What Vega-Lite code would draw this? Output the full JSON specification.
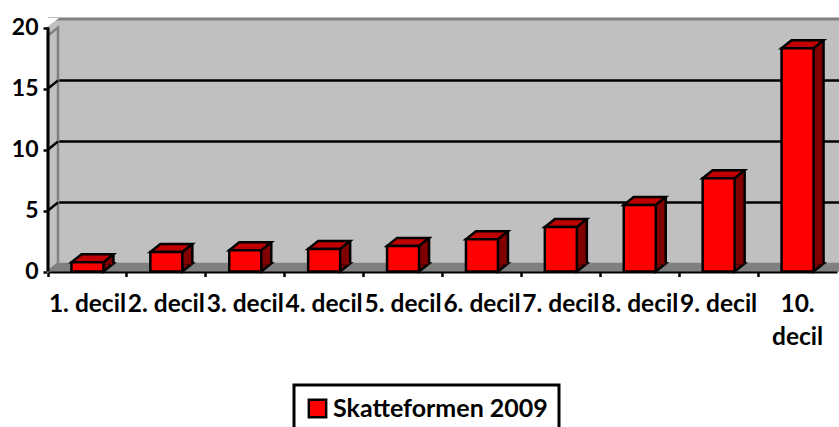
{
"$schema":"https://vega.github.io/schema/vega-lite/v6.json",
"autosize":"none","width":791,"height":252.5,
"padding":{"left":48,"top":19,"right":0,"bottom":155.5},
"background":"white",
"view":{"fill":"#C0C0C0","stroke":null},
"config":{"legend":{"strokeWidth":3}},
"data":{"values":[
{"decil":"1. decil","value":0.75,"series":"Skatteformen 2009"},
{"decil":"2. decil","value":1.6,"series":"Skatteformen 2009"},
{"decil":"3. decil","value":1.75,"series":"Skatteformen 2009"},
{"decil":"4. decil","value":1.85,"series":"Skatteformen 2009"},
{"decil":"5. decil","value":2.1,"series":"Skatteformen 2009"},
{"decil":"6. decil","value":2.65,"series":"Skatteformen 2009"},
{"decil":"7. decil","value":3.65,"series":"Skatteformen 2009"},
{"decil":"8. decil","value":5.45,"series":"Skatteformen 2009"},
{"decil":"9. decil","value":7.65,"series":"Skatteformen 2009"},
{"decil":"10. decil","value":18.3,"series":"Skatteformen 2009"}
]},
"encoding":{
"x":{"field":"decil","type":"nominal","sort":null,"title":null,
 "scale":{"range":[0,789],"paddingInner":0,"paddingOuter":0},
 "axis":{"labelAngle":0,"labelFont":"Lato","labelFontWeight":"bold","labelFontSize":24.5,"labelColor":"black","labelPadding":16,"labelLineHeight":33,"labelBaseline":"top","labelLimit":0,"labelOverlap":false,"tickColor":"black","tickWidth":2.5,"tickSize":5,"domainColor":"black","domainWidth":3,"grid":false,"bandPosition":0,
 "labelExpr":"datum.label == '10. decil' ? ['10.','decil'] : datum.label"}},
"y":{"field":"value","type":"quantitative","title":null,
 "scale":{"domain":[0,20.7],"nice":false,"zero":true},
 "axis":{"values":[0,5,10,15,20],"labelFont":"Lato","labelFontWeight":"bold","labelFontSize":23,"labelColor":"black","labelPadding":5,"tickColor":"black","tickWidth":2.5,"tickSize":5,"domain":false,"grid":false}}
},
"layer":[
{"data":{"values":[{"v":20.7}]},"mark":{"type":"rule","color":"#808080","strokeWidth":3},"encoding":{"x":{},"y":{"field":"v","type":"quantitative"}}},
{"data":{"values":[{"v":5},{"v":10},{"v":15}]},"mark":{"type":"rule","color":"black","strokeWidth":2.5,"yOffset":-8},"encoding":{"x":{},"y":{"field":"v","type":"quantitative"}}},
{"data":{"values":[{"v":0}]},"mark":{"type":"rect","color":"#808080"},"encoding":{"x":{},"y":{"field":"v","type":"quantitative"},"y2":{"datum":0.72}}},
{"data":{"values":[{"d":"1. decil","v":20.7}]},"mark":{"type":"point","filled":true,"shape":"M-1,-1 L11,-1 L-1,8 Z","size":4,"color":"white","opacity":1,"xOffset":-39.45},"encoding":{"x":{"field":"d","type":"nominal"},"y":{"field":"v","type":"quantitative"}}},
{"data":{"values":[{"d":"1. decil","v":0}]},"mark":{"type":"point","filled":true,"shape":"M0,0 L10,-8 L10,-244 L0,-236 Z","size":4,"fill":"#C0C0C0","stroke":"#808080","strokeWidth":2.5,"opacity":1,"xOffset":-39.45},"encoding":{"x":{"field":"d","type":"nominal"},"y":{"field":"v","type":"quantitative"}}},
{"data":{"values":[{"d":"1. decil","v":5},{"d":"1. decil","v":10},{"d":"1. decil","v":15}]},"mark":{"type":"point","filled":false,"shape":"M0,0 L10,-8","size":4,"stroke":"black","strokeWidth":2.5,"opacity":1,"xOffset":-39.45},"encoding":{"x":{"field":"d","type":"nominal"},"y":{"field":"v","type":"quantitative"}}},
{"data":{"values":[{"d":"1. decil","a":0,"b":20}]},"mark":{"type":"rule","color":"black","strokeWidth":3,"xOffset":-39.45},"encoding":{"x":{"field":"d","type":"nominal"},"y":{"field":"a","type":"quantitative"},"y2":{"field":"b"}}},
{"mark":{"type":"point","filled":true,"shape":"M16,0 L26,-8 L16,-8 Z","size":4,"fill":"#800000","stroke":"black","strokeWidth":2.5,"opacity":1},"encoding":{"y":{"datum":0}}},
{"mark":{"type":"bar","size":10,"color":"#800000","xOffset":21,"x2Offset":21,"yOffset":-8,"y2Offset":-7},"encoding":{"y2":{"datum":0}}},
{"mark":{"type":"rule","color":"black","strokeWidth":2.5,"xOffset":26,"yOffset":-8,"y2Offset":-8},"encoding":{"y2":{"datum":0}}},
{"mark":{"type":"point","filled":true,"shape":"M-16,0 L16,0 L26,-8 L-6,-8 Z","size":4,"fill":"#C00000","stroke":"black","strokeWidth":2.5,"opacity":1}},
{"mark":{"type":"bar","size":32,"stroke":"black","strokeWidth":2.5},"encoding":{"y2":{"datum":0},
 "color":{"field":"series","type":"nominal","title":null,"scale":{"range":["#FF0000"]},
 "legend":{"orient":"none","legendX":246,"legendY":366,"direction":"horizontal","padding":11,"strokeColor":"black","fillColor":"white","symbolType":"square","symbolSize":300,"symbolStrokeColor":"black","symbolStrokeWidth":2.5,"labelFont":"Lato","labelFontWeight":"bold","labelFontSize":25,"labelColor":"black","labelLimit":0,"labelOffset":3}}}}
]
}
